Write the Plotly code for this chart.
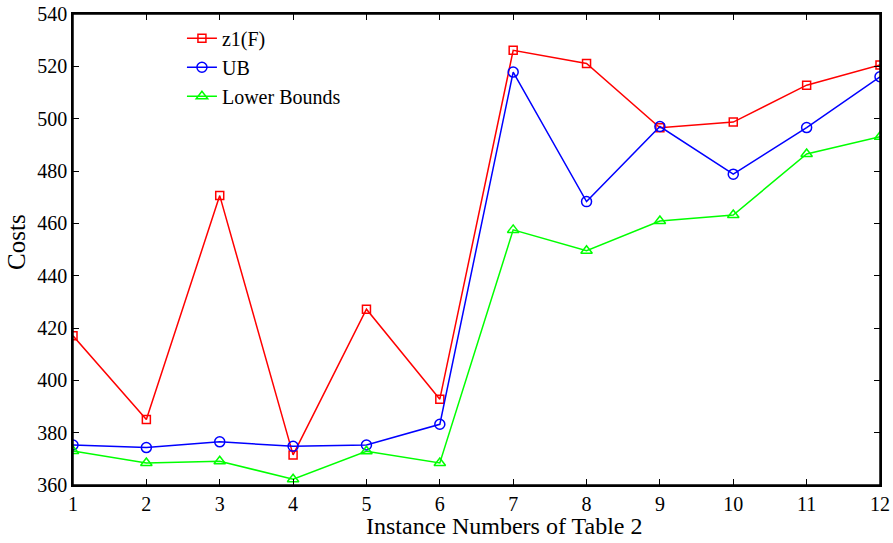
import plotly.graph_objects as go

instances = list(range(1, 13))
z1F = [417.0, 385.0, 470.6, 371.5, 427.2, 392.8, 526.1, 521.1, 496.5, 498.7, 512.8, 520.5]
ub = [375.3, 374.3, 376.5, 374.8, 375.3, 383.2, 517.8, 468.3, 497.0, 478.8, 496.6, 516.0]
lower_bounds = [373.0, 368.4, 369.1, 362.2, 372.9, 368.4, 457.5, 449.5, 460.9, 463.2, 486.5, 493.1]

y_ticks = [360, 380, 400, 420, 440, 460, 480, 500, 520, 540]

fig = go.Figure()
fig.add_trace(go.Scatter(x=instances, y=z1F, name="z1(F)", mode="lines+markers",
                         line=dict(color="#FF0000", width=1.5),
                         marker=dict(symbol="square-open", size=8, color="#FF0000", line=dict(width=1.5))))
fig.add_trace(go.Scatter(x=instances, y=ub, name="UB", mode="lines+markers",
                         line=dict(color="#0000FF", width=1.5),
                         marker=dict(symbol="circle-open", size=10, color="#0000FF", line=dict(width=1.5))))
fig.add_trace(go.Scatter(x=instances, y=lower_bounds, name="Lower Bounds", mode="lines+markers",
                         line=dict(color="#00FF00", width=1.5),
                         marker=dict(symbol="triangle-up-open", size=10, color="#00FF00", line=dict(width=1.5))))

axis_common = dict(showline=True, linecolor="black", linewidth=1.5, mirror="allticks",
                   ticks="inside", ticklen=6, tickcolor="black", tickwidth=1,
                   showgrid=False, zeroline=False, automargin=False,
                   tickfont=dict(family="Liberation Serif", size=20, color="black"))

fig.update_layout(
    width=893, height=543,
    margin=dict(l=73, r=13, t=14, b=58),
    plot_bgcolor="white", paper_bgcolor="white",
    font=dict(family="Liberation Serif", color="black"),
    xaxis=dict(range=[1, 12], tickvals=instances, **axis_common),
    yaxis=dict(range=[360, 540], tickvals=y_ticks, **axis_common),
    legend=dict(x=0.135, y=0.99, xanchor="left", yanchor="top",
                bgcolor="rgba(0,0,0,0)", font=dict(size=20, family="Liberation Serif"),
                tracegroupgap=0),
    showlegend=True,
    shapes=[dict(type="rect", xref="paper", yref="paper", x0=0, x1=1, y0=0, y1=1,
                 line=dict(color="black", width=1.5), layer="above")],
    annotations=[
        dict(text="Instance Numbers of Table 2", xref="paper", yref="paper",
             x=0.534, y=-0.087, xanchor="center", yanchor="middle", showarrow=False,
             font=dict(size=24, family="Liberation Serif", color="black")),
        dict(text="Costs", xref="paper", yref="paper", textangle=-90,
             x=-0.0694, y=0.516, xanchor="center", yanchor="middle", showarrow=False,
             font=dict(size=25, family="Liberation Serif", color="black")),
    ],
)

fig.write_html("out.html", config={"displayModeBar": False},
               post_script="document.body.style.margin='0';")
